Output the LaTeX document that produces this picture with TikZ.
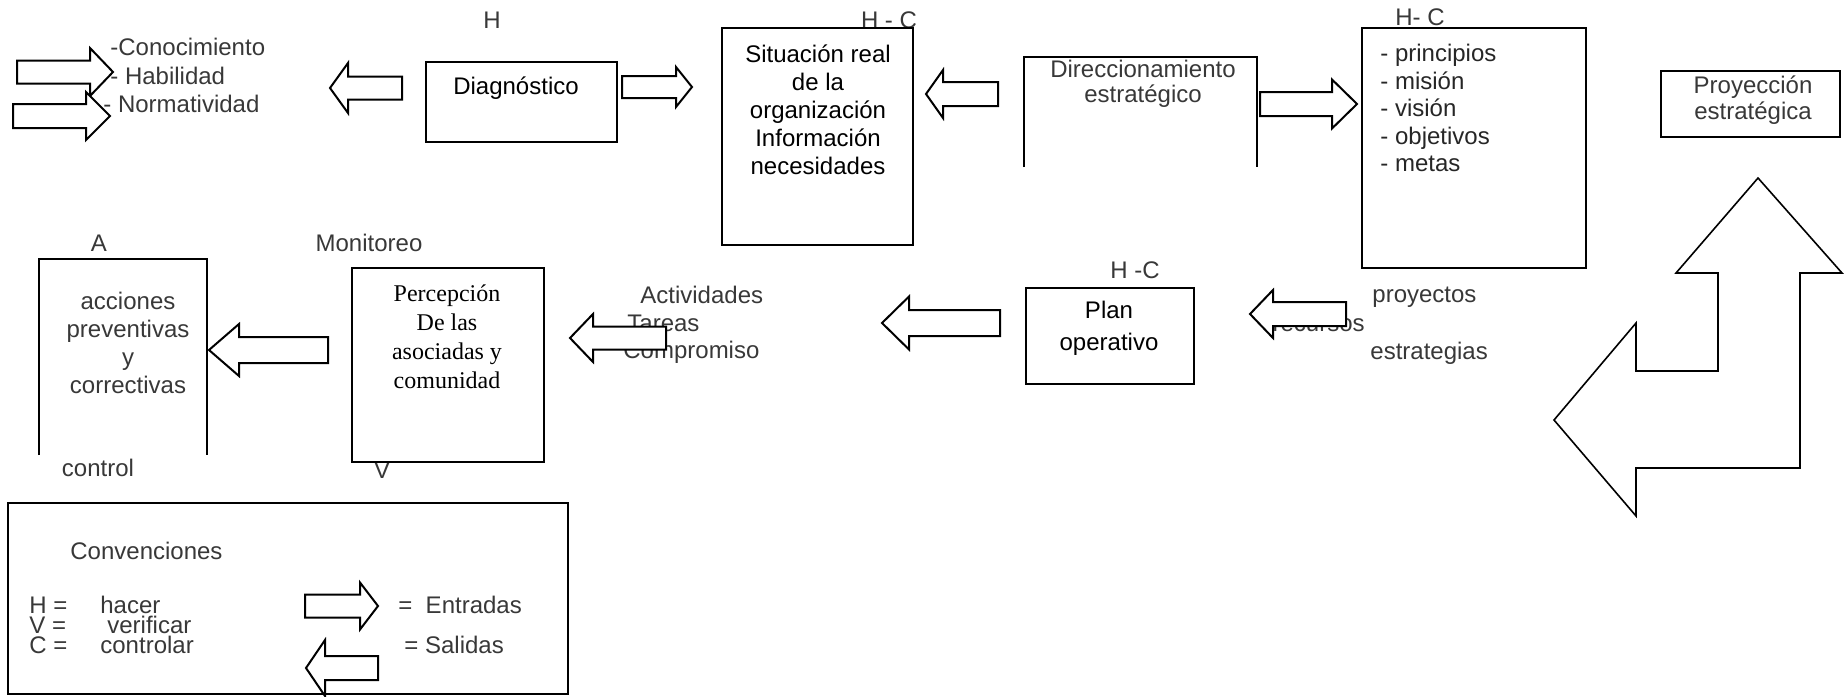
\documentclass[tikz,border=0pt]{standalone}
\usepackage{fontspec}
\setmainfont{Liberation Sans}
\newfontfamily\serifa{Liberation Serif}
\definecolor{gristexto}{gray}{0.22}
% flecha de bloque: cola, base de la punta, punta, centro y, medio cuerpo, media punta
\newcommand{\flecha}[6]{%
  \filldraw[flecha] (#1,{#4-#5}) -- (#2,{#4-#5}) -- (#2,{#4-#6}) -- (#3,#4)
    -- (#2,{#4+#6}) -- (#2,{#4+#5}) -- (#1,{#4+#5}) -- cycle;}

\begin{document}
\begin{tikzpicture}[x=0.5pt,y=-0.5pt]
\tikzset{
	flecha/.style={draw=black,fill=white,line width=1pt},
	caja/.style={draw=black,line width=1pt},
	etiq/.style={inner sep=0pt,text=gristexto,font=\fontsize{12}{14}\selectfont},
	texto/.style={inner sep=0pt,align=center,font=\fontsize{12}{14}\selectfont},
}
\useasboundingbox (0,0) rectangle (1845,696);

 % entradas de la izquierda
  \node[etiq,anchor=west] (conoc) at (110,47) {-Conocimiento};
  \node[etiq,anchor=west] (habil) at (110,76) {- Habilidad};
  \node[etiq,anchor=west] (norma) at (103,104) {- Normatividad};
  \flecha{17}{90}{113}{72}{11.5}{24}
  \flecha{13}{86}{110}{116}{12}{24}

 % diagnostico
  \node[etiq] (hdiag) at (492,20) {H};
  \flecha{402}{348}{330}{88}{11.5}{25}
  \draw[caja] (426,62) rectangle (617,142);
  \node[texto] (diag) at (516,88) {Diagnóstico};
  \flecha{622}{676}{692}{87}{11}{20}

 % situacion real
  \node[etiq] (hsit) at (889,20) {H - C};
  \draw[caja] (722,28) rectangle (913,245);
  \node[texto] (sit) at (818,110) {Situación real\\de la\\organización\\Información\\necesidades};
  \flecha{998}{943}{926}{94}{12}{24}

 % direccionamiento (caja abierta abajo)
  \draw[caja] (1024,167) -- (1024,57) -- (1257,57) -- (1257,167);
  \node[etiq,align=center,font=\fontsize{12}{12.5}\selectfont] (direc) at (1143,84) {Direccionamiento\\estratégico};
  \flecha{1260}{1332}{1357}{104}{12}{24.5}

 % principios
  \node[etiq] (hprin) at (1420,17) {H- C};
  \draw[caja] (1362,28) rectangle (1586,268);
  \node[texto,align=left,anchor=west,text=black!85,font=\fontsize{12}{13.75}\selectfont] (prin) at (1380,108) {- principios\\- misión\\- visión\\- objetivos\\- metas};

 % proyeccion y flecha doblada
  \draw[caja] (1661,71) rectangle (1840,137);
  \node[etiq,align=center,font=\fontsize{12}{13}\selectfont] (proy) at (1753,100) {Proyección\\estratégica};
  \filldraw[flecha,line width=0.8pt] (1758,178) -- (1842,273) -- (1800,273) -- (1800,468) -- (1636,468)
    -- (1636,516) -- (1554,420) -- (1636,323) -- (1636,371) -- (1718,371) -- (1718,273) -- (1676,273) -- cycle;

 % plan operativo
  \node[etiq,anchor=west] (proyec) at (1372,297) {proyectos};
  \node[etiq,anchor=east] (recur) at (1365,325) {recursos};
  \node[etiq,anchor=west] (estra) at (1370,353) {estrategias};
  \flecha{1346}{1273}{1250}{314}{12}{24}
  \node[etiq] (hplan) at (1135,270) {H -C};
  \draw[caja] (1026,288) rectangle (1194,384);
  \node[texto,font=\fontsize{12}{16}\selectfont] (plan) at (1109,328) {Plan\\operativo};
  \flecha{1000}{909}{882}{323}{13}{26.5}

 % actividades
  \node[etiq,anchor=west] (activ) at (640,295) {Actividades};
  \node[etiq,anchor=west] (tareas) at (627,323) {Tareas};
  \node[etiq,anchor=west] (compr) at (623,352) {Compromiso};
  \flecha{666}{593}{570}{338}{11.5}{24}

 % monitoreo
  \node[etiq] (monit) at (369,243) {Monitoreo};
  \node[etiq] (vmon) at (382,470) {V};
  \draw[caja] (352,268) rectangle (544,462);
  \node[texto,font=\serifa\fontsize{12}{14.5}\selectfont] (percep) at (447,337) {Percepción\\De las\\asociadas y\\comunidad};
  \flecha{328}{239}{209}{350}{13}{26}

 % acciones
  \node[etiq] (aacc) at (99,243) {A};
  \draw[caja] (39,455) -- (39,259) -- (207,259) -- (207,455);
  \node[etiq,align=center,font=\fontsize{12}{14}\selectfont] (accio) at (128,343) {acciones\\preventivas\\y\\correctivas};
  \node[etiq] (contr) at (98,468) {control};

 % convenciones
  \draw[caja] (8,503) rectangle (568,694);
  \node[etiq,anchor=west] (conv) at (70,551) {Convenciones};
  \node[etiq,anchor=west] (hh) at (29,605) {H =};
  \node[etiq,anchor=west] (hacer) at (100,605) {hacer};
  \node[etiq,anchor=west] (vv) at (29,625) {V =};
  \node[etiq,anchor=west] (verif) at (107,625) {verificar};
  \node[etiq,anchor=west] (cc) at (29,645) {C =};
  \node[etiq,anchor=west] (contro) at (100,645) {controlar};
  \flecha{305}{360}{378}{606}{11.5}{23.5}
  \node[etiq,anchor=west] (entra) at (398,605) {=\ \ Entradas};
  \flecha{378}{325}{306}{668}{12}{28}
  \node[etiq,anchor=west] (sali) at (404,645) {= Salidas};
\end{tikzpicture}
\end{document}
